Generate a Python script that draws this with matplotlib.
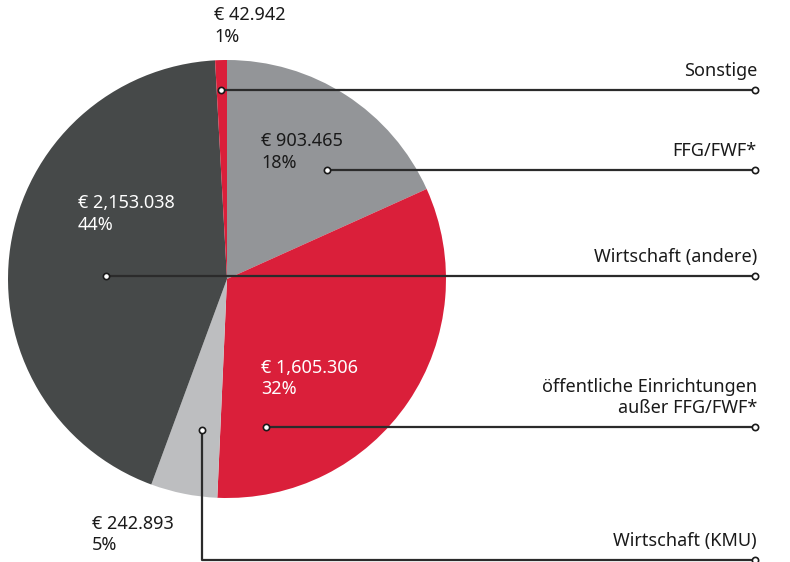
import matplotlib
matplotlib.use("Agg")
import matplotlib.pyplot as plt

plt.rcParams['font.family'] = ['Noto Sans', 'DejaVu Sans']

# data, clockwise from 12 o'clock
categories = ["FFG/FWF*", "öffentliche Einrichtungen\naußer FFG/FWF*", "Wirtschaft (KMU)",
              "Wirtschaft (andere)", "Sonstige"]
values = [903.465, 1605.306, 242.893, 2153.038, 42.942]
value_labels = ["€ 903.465", "€ 1,605.306", "€ 242.893", "€ 2,153.038", "€ 42.942"]
pct_labels = ["18%", "32%", "5%", "44%", "1%"]
colors = ["#939598", "#DA1F3A", "#BDBEC0", "#464949", "#DA1F3A"]
text_colors = ["#1a1a1a", "white", "#1a1a1a", "white", "#1a1a1a"]

W, H = 790, 562
fig = plt.figure(figsize=(7.9, 5.62), dpi=100)
ax = fig.add_axes([0, 0, 1, 1])

def py(y):
    # pixel row -> data y
    return H - y

cx, cy, r = 227, py(279), 219
ax.pie(values, colors=colors, startangle=90, counterclock=False,
       center=(cx, cy), radius=r, frame=True,
       wedgeprops=dict(linewidth=0))
ax.set_xlim(0, W)
ax.set_ylim(0, H)
ax.set_aspect("equal")
ax.axis("off")

fs = 13
# value / percent labels (x, top y in pixels)
label_pos = [(261, 132), (261, 359), (92, 515), (78, 194), (214, 6)]
for (x, y), v, p, c in zip(label_pos, value_labels, pct_labels, text_colors):
    ax.text(x, py(y), v + "\n" + p, color=c, fontsize=fs, ha="left", va="top",
            linespacing=1.25)

# leader lines: (label, start x, start y, line y)
line_col = "#2b2b2b"
x_end = 755
leaders = [
    ("Sonstige", 221, 90, 90),
    ("FFG/FWF*", 327, 170, 170),
    ("Wirtschaft (andere)", 106, 276, 276),
    ("öffentliche Einrichtungen\naußer FFG/FWF*", 266, 427, 427),
    ("Wirtschaft (KMU)", 202, 430, 560),
]
for name, x0, y0, yl in leaders:
    xs = [x0, x0, x_end] if yl != y0 else [x0, x_end]
    ys = [py(y0), py(yl), py(yl)] if yl != y0 else [py(y0), py(yl)]
    ax.plot(xs, ys, color=line_col, lw=1.6, solid_capstyle="butt", zorder=5)
    ax.plot([x0, x_end], [py(y0), py(yl)], ls="none", marker="o", ms=4.5,
            mfc="white", mec="#1a1a1a", mew=1.2, zorder=6)
    ax.text(757, py(yl - 10), name, fontsize=fs, ha="right", va="bottom",
            color="#1a1a1a", linespacing=1.22)

fig.savefig("out.png", dpi=100)
